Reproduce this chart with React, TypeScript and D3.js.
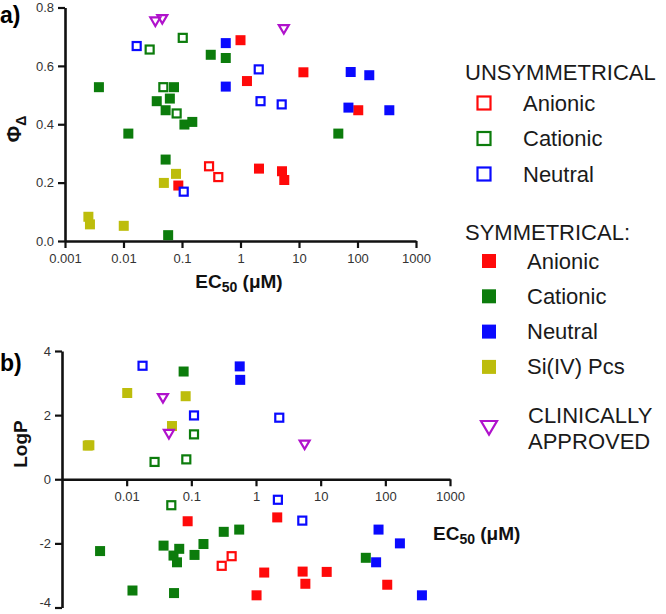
import { useRef, useEffect } from 'react';
import * as d3 from 'd3';

type Pt = [number, number];

// axis ticks
const xTicksA = [0.001, 0.01, 0.1, 1, 10, 100, 1000];
const yTicksA = [0, 0.2, 0.4, 0.6, 0.8];
const xTicksB = [0.01, 0.1, 1, 10, 100, 1000];
const yTicksB = [-4, -2, 0, 2, 4];

// panel a: [EC50 (µM), ΦΔ]
const unsymAnionicA: Pt[] = [[0.29, 0.256], [0.417, 0.219]];
const unsymCationicA: Pt[] = [[0.028, 0.656], [0.103, 0.696], [0.048, 0.527], [0.081, 0.437]];
const unsymNeutralA: Pt[] = [[0.0168, 0.668], [2.05, 0.588], [2.2, 0.479], [5.06, 0.468], [0.107, 0.169]];
const symAnionicA: Pt[] = [[1.0, 0.688], [1.29, 0.548], [11.9, 0.578], [103, 0.448], [2.07, 0.248], [5.12, 0.239], [5.6, 0.209], [0.0865, 0.19]];
const symCationicA: Pt[] = [[0.31, 0.638], [0.56, 0.627], [0.0038, 0.527], [0.073, 0.527], [0.062, 0.488], [0.037, 0.479], [0.0525, 0.448], [0.11, 0.399], [0.15, 0.408], [0.0121, 0.368], [47, 0.368], [0.0525, 0.279], [0.058, 0.02]];
const symNeutralA: Pt[] = [[0.56, 0.678], [0.56, 0.529], [76.5, 0.579], [159, 0.568], [70, 0.457], [350, 0.448]];
const siPcA: Pt[] = [[0.049, 0.199], [0.079, 0.23], [0.00251, 0.083], [0.00267, 0.057], [0.0101, 0.052]];
const clinicalA: Pt[] = [[0.035, 0.753], [0.046, 0.761], [5.5, 0.727]];

// panel b: [EC50 (µM), LogP]
const unsymAnionicB: Pt[] = [[0.295, -2.7], [0.42, -2.4]];
const unsymCationicB: Pt[] = [[0.027, 0.54], [0.0836, 0.62], [0.049, -0.81], [0.11, 1.4]];
const unsymNeutralB: Pt[] = [[0.0176, 3.54], [0.11, 1.99], [2.29, 1.92], [2.18, -0.64], [5.2, -1.29]];
const symAnionicB: Pt[] = [[0.0877, -1.31], [2.13, -1.19], [1.34, -2.91], [1.02, -3.62], [5.26, -2.88], [5.8, -3.26], [12.4, -2.89], [107, -3.29]];
const symCationicB: Pt[] = [[0.076, 3.36], [0.317, -1.64], [0.55, -1.57], [0.00388, -2.24], [0.0372, -2.07], [0.065, -2.17], [0.053, -2.38], [0.06, -2.59], [0.112, -2.36], [0.154, -2.02], [0.0123, -3.47], [0.054, -3.55], [49.9, -2.45]];
const symNeutralB: Pt[] = [[0.56, 3.52], [0.57, 3.1], [78.5, -1.57], [168, -2.0], [72, -2.59], [368, -3.62]];
const siPcB: Pt[] = [[0.0102, 2.69], [0.0817, 2.59], [0.0502, 1.66], [0.00265, 1.06], [0.0025, 1.05]];
const clinicalB: Pt[] = [[0.0364, 2.54], [0.045, 1.42], [5.65, 1.09]];

const RED = '#ff0a0a';
const GREEN = '#0c7c0c';
const BLUE = '#0a0aff';
const YELLOW = '#bdbd0c';
const MAGENTA = '#b012cc';

type Shape = 'filled' | 'open' | 'tri';
interface Series { label: string; color: string; shape: Shape; a: Pt[]; b: Pt[] }

// filled first, then open squares, then triangles on top
const series: Series[] = [
  { label: 'Anionic', color: RED, shape: 'filled', a: symAnionicA, b: symAnionicB },
  { label: 'Cationic', color: GREEN, shape: 'filled', a: symCationicA, b: symCationicB },
  { label: 'Neutral', color: BLUE, shape: 'filled', a: symNeutralA, b: symNeutralB },
  { label: 'Si(IV) Pcs', color: YELLOW, shape: 'filled', a: siPcA, b: siPcB },
  { label: 'Anionic', color: RED, shape: 'open', a: unsymAnionicA, b: unsymAnionicB },
  { label: 'Cationic', color: GREEN, shape: 'open', a: unsymCationicA, b: unsymCationicB },
  { label: 'Neutral', color: BLUE, shape: 'open', a: unsymNeutralA, b: unsymNeutralB },
  { label: 'CLINICALLY APPROVED', color: MAGENTA, shape: 'tri', a: clinicalA, b: clinicalB },
];

const FONT = '"Liberation Sans", Arial, Helvetica, sans-serif';

function drawMarker(g: d3.Selection<SVGGElement, unknown, null, undefined>, shape: Shape, color: string, cx: number, cy: number, s: number) {
  if (shape === 'filled') {
    g.append('rect').attr('x', cx - s / 2).attr('y', cy - s / 2).attr('width', s).attr('height', s).attr('fill', color);
  } else if (shape === 'open') {
    const w = s - 2;
    g.append('rect').attr('x', cx - w / 2).attr('y', cy - w / 2).attr('width', w).attr('height', w)
      .attr('fill', '#fff').attr('stroke', color).attr('stroke-width', 2.2);
  } else {
    const h = s * 0.5;
    g.append('path')
      .attr('d', `M${cx - h},${cy - h * 0.75}L${cx + h},${cy - h * 0.75}L${cx},${cy + h * 0.95}Z`)
      .attr('fill', 'none').attr('stroke', color).attr('stroke-width', 2.2).attr('stroke-linejoin', 'miter');
  }
}

function App() {
  const svgRef = useRef<SVGSVGElement>(null);
  const width = 666;
  const height = 614;

  useEffect(() => {
    const svg = d3.select(svgRef.current);
    svg.selectAll('*').remove();
    svg.style('font-family', FONT);

    const styleAxis = (ax: d3.Selection<SVGGElement, unknown, null, undefined>) => {
      ax.select('.domain').attr('stroke', '#111').attr('stroke-width', 2.6);
      ax.selectAll('.tick line').attr('stroke', '#111').attr('stroke-width', 2.2);
      ax.selectAll('.tick text').attr('fill', '#333').style('font-size', '13px').style('font-family', FONT);
    };

    // ---- panel a ----
    const xA = d3.scaleLog().domain([0.001, 1000]).range([65, 416]);
    const yA = d3.scaleLinear().domain([0, 0.8]).range([241, 7.5]);

    const axA = svg.append('g').attr('transform', `translate(0,${yA(0)})`)
      .call(d3.axisBottom(xA).tickValues(xTicksA).tickFormat((d) => String(d)).tickSize(7).tickSizeOuter(0).tickPadding(6));
    styleAxis(axA);
    const ayA = svg.append('g').attr('transform', `translate(${xA(0.001)},0)`)
      .call(d3.axisLeft(yA).tickValues(yTicksA).tickFormat((d) => (d as number).toFixed(1)).tickSize(7).tickSizeOuter(0).tickPadding(4));
    styleAxis(ayA);

    // ---- panel b ----
    const xB = d3.scaleLog().domain([0.001, 1000]).range([62, 450]);
    const yB = d3.scaleLinear().domain([-4, 4]).range([607.5, 351]);

    const axB = svg.append('g').attr('transform', `translate(0,${yB(0)})`)
      .call(d3.axisBottom(xB).tickValues(xTicksB).tickFormat((d) => String(d)).tickSize(7).tickSizeOuter(0).tickPadding(6));
    styleAxis(axB);
    const ayB = svg.append('g').attr('transform', `translate(${xB(0.001)},0)`)
      .call(d3.axisLeft(yB).tickValues(yTicksB).tickFormat((d) => String(d)).tickSize(7).tickSizeOuter(0).tickPadding(4));
    styleAxis(ayB);
    // bottom label sits against the page edge; lift it so it stays whole
    ayB.selectAll<SVGTextElement, number>('.tick text').filter((d) => d === -4).attr('dy', '-0.05em');

    // points
    const pts = svg.append('g');
    series.forEach((s) => {
      s.a.forEach(([ec, v]) => drawMarker(pts, s.shape, s.color, xA(ec), yA(v), 10));
      s.b.forEach(([ec, v]) => drawMarker(pts, s.shape, s.color, xB(ec), yB(v), 10));
    });

    // panel letters
    svg.append('text').attr('x', 0).attr('y', 23).attr('font-size', 23).attr('font-weight', 'bold').text('a)');
    svg.append('text').attr('x', 0).attr('y', 371).attr('font-size', 23).attr('font-weight', 'bold').text('b)');

    // axis titles
    const ecLabel = (x: number, y: number, anchor: string) => {
      const t = svg.append('text').attr('x', x).attr('y', y).attr('text-anchor', anchor)
        .attr('font-size', 19).attr('font-weight', 'bold').attr('fill', '#111');
      t.append('tspan').text('EC');
      t.append('tspan').attr('font-size', 14).attr('dy', 4).text('50');
      t.append('tspan').attr('dy', -4).text(' (μM)');
    };
    ecLabel(239, 288, 'middle');
    ecLabel(433, 540, 'start');

    const phi = svg.append('text').attr('transform', 'translate(21,129) rotate(-90)').attr('text-anchor', 'middle')
      .attr('font-size', 20).attr('font-weight', 'bold').attr('fill', '#111');
    phi.append('tspan').text('Φ');
    phi.append('tspan').attr('font-size', 14).attr('dy', 5).text('Δ');

    svg.append('text').attr('transform', 'translate(27,444) rotate(-90)').attr('text-anchor', 'middle')
      .attr('font-size', 19).attr('font-weight', 'bold').attr('fill', '#111').text('LogP');

    // legend
    const lg = svg.append('g').attr('fill', '#1a1a1a').style('font-size', '22px');
    lg.append('text').attr('x', 465).attr('y', 80).text('UNSYMMETRICAL');
    const unsym = series.filter((s) => s.shape === 'open');
    unsym.forEach((s, i) => {
      const cy = 103 + i * 35.5;
      drawMarker(lg, 'open', s.color, 484, cy, 15);
      lg.append('text').attr('x', 523).attr('y', cy + 7.5).text(s.label);
    });
    lg.append('text').attr('x', 465).attr('y', 240).text('SYMMETRICAL:');
    const sym = series.filter((s) => s.shape === 'filled');
    sym.forEach((s, i) => {
      const cy = 261 + i * 35.3;
      drawMarker(lg, 'filled', s.color, 489, cy, 14);
      lg.append('text').attr('x', 527).attr('y', cy + 7.5).text(s.label);
    });
    const clin = series.find((s) => s.shape === 'tri')!;
    drawMarker(lg, 'tri', clin.color, 489, 427, 16);
    lg.append('text').attr('x', 528).attr('y', 423).text('CLINICALLY');
    lg.append('text').attr('x', 528).attr('y', 449).text('APPROVED');
  }, []);

  return (
    <svg ref={svgRef} width={width} height={height}
      style={{ position: 'absolute', left: 0, top: 0, background: '#fff' }} />
  );
}

export default App;
